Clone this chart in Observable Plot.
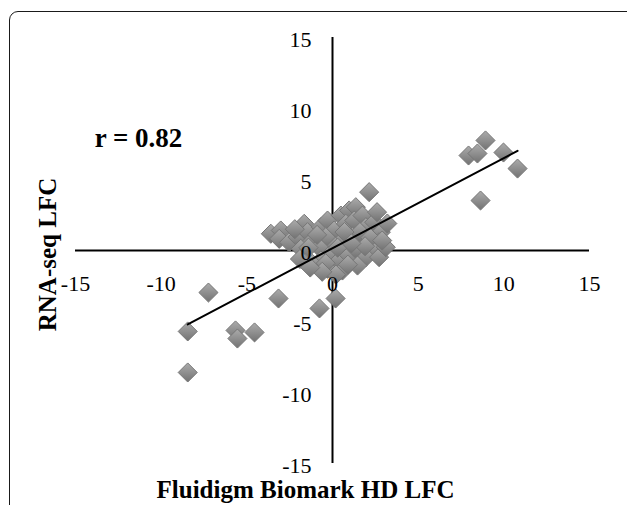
<!DOCTYPE html>
<html><head><meta charset="utf-8">
<script src="https://cdn.jsdelivr.net/npm/d3@7"></script>
<script src="https://cdn.jsdelivr.net/npm/@observablehq/plot@0.6"></script>
<style>
html,body{margin:0;padding:0;background:#fff;overflow:hidden;}
#wrap{position:relative;width:627px;height:505px;overflow:hidden;}
#frame{position:absolute;left:9px;top:11px;width:640px;height:520px;border:1.5px solid #1a1a1a;border-radius:9px;box-sizing:border-box;pointer-events:none;}
#wrap svg{position:absolute;left:0;top:0;}
</style></head><body>
<div id="wrap"><div id="frame"></div></div>
<script>
// Fluidigm Biomark HD log fold change (x) and RNA-seq log fold change (y)
const fluidigmLFC = [
  -8.45,-8.45,-7.24,-5.66,-5.55,-4.55,-3.15,-0.76,0.18,8.93,7.94,8.46,9.98,10.8,8.64,
  -3.60,-3.02,-3.11,-2.53,-2.04,-1.65,-1.46,-1.17,-1.85,-0.68,
  -0.29,0.10,0.49,0.97,1.36,0.78,1.27,1.75,2.14,1.95,
  2.43,2.82,2.72,2.34,1.75,1.17,0.58,0.00,-0.39,-0.78,
  -0.19,0.39,0.97,1.36,1.95,-0.68,-1.17,-0.29,0.58,1.46,
  2.72,3.11,
  -2.20,-0.90,0.30,1.60,2.20,-0.40,0.90,1.90,-1.40,0.70,2.90,0.20,-0.60,-1.90,1.10,
  3.20,2.60,-1.30
];
const rnaseqLFC = [
  -8.59,-5.70,-2.96,-5.63,-6.20,-5.77,-3.38,-4.08,-3.38,7.75,6.69,6.83,6.90,5.77,3.52,
  1.18,1.41,0.82,0.58,0.94,1.88,1.29,0.70,0.12,1.64,
  2.11,1.41,2.46,2.82,3.05,1.88,2.11,2.46,4.11,1.64,
  1.99,1.29,0.58,0.00,0.70,0.94,0.70,0.47,0.94,0.23,
  -0.35,-0.70,-0.35,0.12,-0.47,-0.70,-0.94,-1.29,-1.41,-1.06,
  -0.47,0.23,
  1.50,1.10,0.20,1.30,0.90,-0.90,-1.00,0.30,0.20,1.30,0.70,-1.70,-1.50,-0.60,0.50,
  1.90,2.70,-1.20
];
const xTicks = [-15,-10,-5,0,5,10,15];
const yTicks = [15,10,5,0,-5,-10,-15];
const axisExtent = [-15,15];
const rLabel = ["r = 0.82"];
const xTitle = ["Fluidigm Biomark HD LFC"];
const yTitle = ["RNA-seq LFC"];

const points = fluidigmLFC.map((x,i)=>({x, y: rnaseqLFC[i]}));
const serif = "'Liberation Serif','Times New Roman',Times,serif";

const chart = Plot.plot({
  width:627, height:505,
  marginLeft:75, marginRight:38, marginTop:37, marginBottom:42,
  x:{domain:axisExtent, axis:null},
  y:{domain:axisExtent, axis:null},
  style:{background:"transparent", fontFamily:serif, color:"#000"},
  marks:[
    Plot.ruleY([0], {x1:axisExtent[0], x2:axisExtent[1], stroke:"#000", strokeWidth:2}),
    Plot.ruleX([0], {y1:axisExtent[0], y2:axisExtent[1], stroke:"#000", strokeWidth:2}),
    Plot.dot(points, {x:"x", y:"y", symbol:"diamond2", r:8.6, fill:"url(#mk)", stroke:"#767676", strokeWidth:1}),
    Plot.linearRegressionY(points, {x:"x", y:"y", ci:0, stroke:"#000", strokeWidth:2}),
    Plot.text(xTicks, {x:d=>d, y:0, dy:33, text:d=>String(d), fontSize:22, fontFamily:serif, fill:"#000"}),
    Plot.text(yTicks, {x:0, y:d=>d, dx:-21, dy:2, text:d=>String(d), textAnchor:"end", fontSize:22, fontFamily:serif, fill:"#000"}),
    Plot.text(rLabel, {frameAnchor:"top-left", dx:63, dy:101, text:d=>d, textAnchor:"middle", lineAnchor:"middle", fontSize:27, fontWeight:"bold", fontFamily:serif, fill:"#000"}),
    Plot.text(yTitle, {frameAnchor:"left", dx:-28, dy:4, rotate:-90, text:d=>d, textAnchor:"middle", lineAnchor:"middle", fontSize:25, fontWeight:"bold", fontFamily:serif, fill:"#000"}),
    Plot.text(xTitle, {frameAnchor:"bottom", dx:-27, dy:26, text:d=>d, textAnchor:"middle", lineAnchor:"middle", fontSize:25, fontWeight:"bold", fontFamily:serif, fill:"#000"})
  ]
});

const defs = d3.select(chart).insert("defs", ":first-child");
const grad = defs.append("linearGradient").attr("id","mk").attr("x1",0).attr("y1",0).attr("x2",0).attr("y2",1);
grad.append("stop").attr("offset","0%").attr("stop-color","#ababab");
grad.append("stop").attr("offset","50%").attr("stop-color","#8f8f8f");
grad.append("stop").attr("offset","100%").attr("stop-color","#727272");

document.getElementById("wrap").appendChild(chart);
</script>
</body></html>
